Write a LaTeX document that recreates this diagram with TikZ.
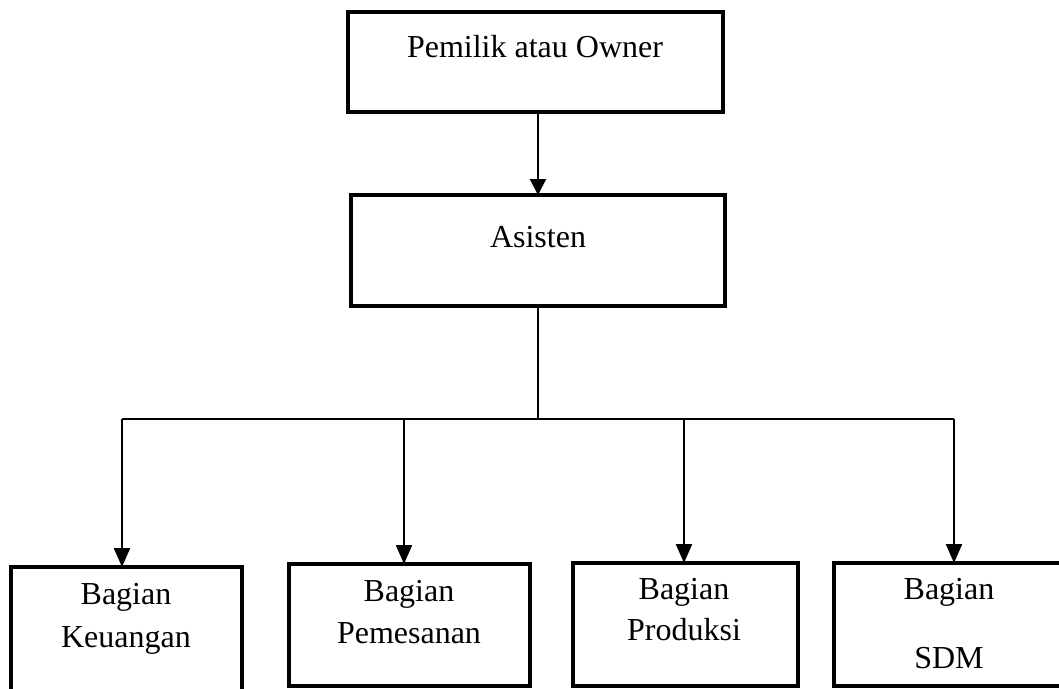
\documentclass[tikz,border=0pt]{standalone}
\usepackage{fontspec}
\setmainfont{Liberation Serif}
\usetikzlibrary{arrows.meta}
\tikzset{
  box/.style={draw=black, line width=3.3pt, rectangle, inner sep=0pt, outer sep=0pt, anchor=north west},
  lbl/.style={anchor=base, inner sep=0pt, align=center, font=\fontsize{32}{42}\selectfont},
  arr/.style={line width=2.2pt, -{Triangle[length=19pt,width=16pt]}},
  toparr/.style={line width=2.2pt, -{Triangle[length=16pt,width=16pt]}},
  bus/.style={line width=1.6pt}
}
\begin{document}
\begin{tikzpicture}[x=1pt,y=-1pt]
\useasboundingbox (0,0) rectangle (1059,688);
% boxes
\node[box, minimum width=375pt, minimum height=100pt] (own) at (348,12) {};
\node[box, minimum width=374pt, minimum height=111pt] (asis) at (351,195) {};
\node[box, minimum width=231pt, minimum height=127pt] (keu) at (11,567) {};
\node[box, minimum width=241pt, minimum height=122pt] (pem) at (289,564) {};
\node[box, minimum width=225pt, minimum height=123pt] (pro) at (573,563) {};
\node[box, minimum width=228pt, minimum height=123pt] (sdm) at (834,563) {};
% texts (anchor base = baseline of last line)
\node[lbl] (townt) at (535,57) {Pemilik atau Owner};
\node[lbl] (tasis) at (538,247) {Asisten};
\node[lbl] (tkeu) at (126,647) {Bagian\\[1pt]Keuangan};
\node[lbl] (tpem) at (409,643) {Bagian\\Pemesanan};
\node[lbl] (tpro) at (684,640) {Bagian\\[-1pt]Produksi};
\node[lbl] (tsdm) at (949,668) {Bagian\\[27pt]SDM};
% connectors
\draw[toparr] (own.south -| asis.north) -- (asis.north);
\coordinate (hub) at (538,419);
\coordinate (d1) at (122,419);
\coordinate (d2) at (404,419);
\coordinate (d3) at (684,419);
\coordinate (d4) at (954,419);
\draw[bus] (asis.south) -- (hub);
\draw[bus] (d1) -- (d4);
\draw[arr] (d1) -- (d1 |- keu.north);
\draw[arr] (d2) -- (d2 |- pem.north);
\draw[arr] (d3) -- (d3 |- pro.north);
\draw[arr] (d4) -- (d4 |- sdm.north);
\end{tikzpicture}
\end{document}
